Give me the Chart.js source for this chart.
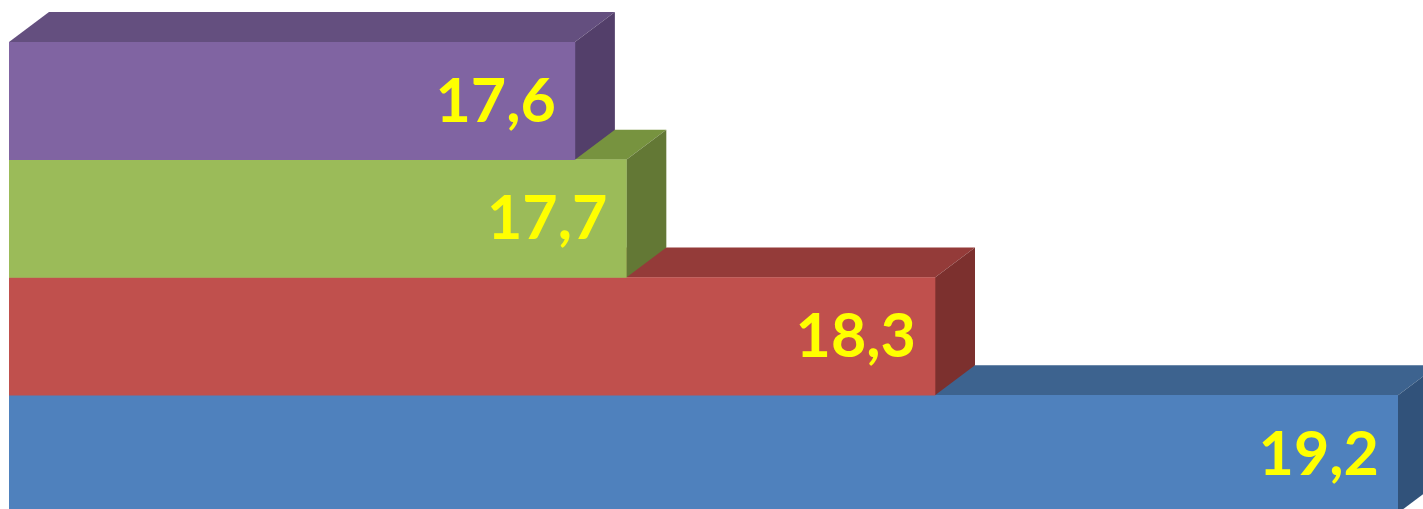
<!DOCTYPE html>
<html>
<head>
<meta charset="utf-8">
<script src="https://cdn.jsdelivr.net/npm/chart.js@4/dist/chart.umd.min.js"></script>
<style>
  html, body { margin: 0; padding: 0; background: #fff; overflow: hidden; height: 509px; }
  #wrap { width: 1423px; height: 513px; position: relative; }
</style>
</head>
<body>
<div id="wrap"><canvas id="chart"></canvas></div>
<script>
// bottom to top (y axis reversed so the lowest bar is drawn first)
const categories = ['1', '2', '3', '4'];
const values = [19.2, 18.3, 17.7, 17.6];
const valueLabels = ['19,2', '18,3', '17,7', '17,6'];

const frontColors = ['#4F81BD', '#C0504D', '#9BBB59', '#8064A2'];
const topColors = ['#3D638F', '#943B39', '#77933F', '#644F7F'];
const sideColors = ['#31527A', '#7C302E', '#637835', '#533F6A'];

const DX = 40, DY = 30;

// top and side faces, bottom bar first so higher bars cover lower ones
const faces3d = {
    id: 'faces3d',
    beforeDatasetsDraw(chart) {
        const ctx = chart.ctx;
        const bars = chart.getDatasetMeta(0).data;
        ctx.save();
        bars.forEach(function (bar, i) {
            const p = bar.getProps(['x', 'y', 'base', 'height'], true);
            const left = Math.max(p.base, chart.chartArea.left), right = p.x;
            const top = p.y - p.height / 2, bottom = p.y + p.height / 2;

            ctx.fillStyle = topColors[i];
            ctx.beginPath();
            ctx.moveTo(left, top);
            ctx.lineTo(left + DX, top - DY);
            ctx.lineTo(right + DX, top - DY);
            ctx.lineTo(right, top);
            ctx.closePath();
            ctx.fill();

            ctx.fillStyle = sideColors[i];
            ctx.beginPath();
            ctx.moveTo(right, top);
            ctx.lineTo(right + DX, top - DY);
            ctx.lineTo(right + DX, bottom - DY);
            ctx.lineTo(right, bottom);
            ctx.closePath();
            ctx.fill();
        });
        ctx.restore();
    },
    afterDatasetsDraw(chart) {
        const ctx = chart.ctx;
        const bars = chart.getDatasetMeta(0).data;
        ctx.save();
        ctx.font = 'bold 61px Lato, "Liberation Sans", sans-serif';
        ctx.fillStyle = '#FFFF00';
        ctx.textAlign = 'right';
        ctx.textBaseline = 'middle';
        bars.forEach(function (bar, i) {
            const p = bar.getProps(['x', 'y'], true);
            ctx.fillText(valueLabels[i], p.x - 19, p.y + 1);
        });
        ctx.restore();
    }
};

new Chart(document.getElementById('chart'), {
    type: 'bar',
    data: {
        labels: categories,
        datasets: [{
            data: values,
            backgroundColor: frontColors,
            borderWidth: 0,
            barPercentage: 1,
            categoryPercentage: 1
        }]
    },
    options: {
        indexAxis: 'y',
        responsive: true,
        maintainAspectRatio: false,
        animation: false,
        layout: { padding: { left: 9, right: 25, top: 42, bottom: 0 } },
        plugins: { legend: { display: false }, tooltip: { enabled: false } },
        scales: {
            x: { display: false, min: 16.5, max: 19.2 },
            y: { display: false, reverse: true }
        }
    },
    plugins: [faces3d]
});
</script>
</body>
</html>
